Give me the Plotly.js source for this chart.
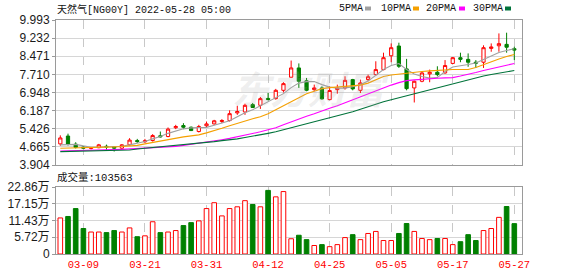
<!DOCTYPE html>
<html>
<head>
<meta charset="utf-8">
<script src="https://cdn.plot.ly/plotly-3.0.1.min.js"></script>
<style>html,body{margin:0;padding:0;background:#fff;}#chart{width:578px;height:276px;}</style>
</head>
<body>
<div id="chart"></div>
<script>
// ---- data ----
const dates = ["03-04","03-07","03-08","03-09","03-10","03-11","03-14","03-15","03-16","03-17",
"03-18","03-21","03-22","03-23","03-24","03-25","03-28","03-29","03-30","03-31",
"04-01","04-04","04-05","04-06","04-07","04-08","04-11","04-12","04-13","04-14",
"04-18","04-19","04-20","04-21","04-22","04-25","04-26","04-27","04-28","04-29",
"05-02","05-03","05-04","05-05","05-06","05-09","05-10","05-11","05-12","05-13",
"05-16","05-17","05-18","05-19","05-20","05-23","05-24","05-25","05-26","05-27"];
const open = [4.79,5.12,4.78,4.66,4.60,4.63,4.69,4.68,4.61,4.75,
4.93,4.88,4.93,5.13,5.10,5.47,5.56,5.49,5.31,5.55,
5.63,5.73,5.77,6.09,6.13,6.44,6.41,6.70,6.69,7.04,
7.59,7.98,7.44,7.07,7.14,6.65,7.07,7.14,7.49,7.04,
7.49,7.70,7.91,8.49,8.90,7.94,7.14,7.42,7.73,7.80,
7.77,8.17,8.41,8.34,8.22,8.22,8.80,8.91,8.97,8.79];
const high = [5.15,5.22,4.86,4.70,4.66,4.79,4.76,4.70,4.78,5.03,
5.00,5.00,5.20,5.31,5.48,5.59,5.66,5.52,5.59,5.73,
5.80,5.83,6.20,6.39,6.48,6.51,6.76,6.93,7.10,7.38,
8.29,8.17,7.56,7.28,7.21,7.21,7.28,7.63,7.52,7.49,
7.70,8.26,8.62,9.01,9.04,8.36,7.45,7.84,7.91,8.05,
8.31,8.44,8.62,8.59,8.31,8.93,9.01,9.43,9.46,8.87];
const low = [4.71,4.72,4.60,4.57,4.56,4.61,4.54,4.47,4.58,4.72,
4.83,4.83,4.89,5.06,5.07,5.41,5.41,5.33,5.27,5.49,
5.60,5.66,5.73,6.01,6.01,6.30,6.26,6.62,6.65,6.95,
7.58,7.14,7.00,7.00,6.65,6.65,6.90,7.07,7.04,6.93,
7.42,7.66,7.88,8.22,7.98,7.04,6.53,7.38,7.38,7.63,
7.74,8.15,8.22,8.03,7.98,7.98,8.66,8.66,8.62,8.31];
const close = [5.04,4.78,4.64,4.61,4.63,4.75,4.66,4.61,4.75,4.95,
4.89,4.92,5.14,5.09,5.41,5.52,5.49,5.35,5.52,5.63,
5.76,5.77,6.06,6.15,6.41,6.32,6.69,6.65,7.04,7.32,
7.98,7.42,7.04,7.14,6.68,7.03,7.14,7.46,7.10,7.35,
7.61,7.91,8.41,8.83,8.05,7.11,7.42,7.77,7.80,7.70,
8.08,8.41,8.34,8.22,8.18,8.83,8.86,9.00,8.85,8.73];
const volume = [123000,128000,155000,87000,75000,75000,73000,80000,75000,89000,
59000,62000,110000,73000,75000,80000,97000,107000,113000,155000,
175000,130000,155000,161000,182000,169000,161000,217000,195000,213000,
52000,64000,49000,29000,32000,25000,32000,56000,66000,49000,
70000,77000,46000,46000,70000,104000,77000,53000,49000,53000,
53000,32000,42000,66000,46000,80000,87000,125000,162000,103563];
const ma5 = [4.748,4.769,4.769,4.706,4.651,4.651,4.664,4.676,4.693,4.748,
4.811,4.887,5.001,5.098,5.233,5.339,5.423,5.465,5.486,5.486,
5.571,5.655,5.761,5.930,6.098,6.225,6.394,6.541,6.710,6.900,
7.153,7.343,7.406,7.406,7.280,7.174,7.132,7.132,7.195,7.280,
7.427,7.660,7.913,8.082,8.166,7.913,7.723,7.617,7.554,7.575,
7.828,8.018,8.060,8.124,8.187,8.335,8.482,8.630,8.714,8.786];
const ma10 = [4.609,4.613,4.621,4.630,4.634,4.642,4.651,4.664,4.680,4.697,
4.727,4.790,4.853,4.917,4.980,5.043,5.086,5.128,5.170,5.254,
5.339,5.444,5.550,5.655,5.761,5.845,5.930,6.056,6.225,6.394,
6.584,6.752,6.900,7.005,7.111,7.153,7.174,7.195,7.217,7.259,
7.343,7.491,7.617,7.681,7.723,7.765,7.799,7.828,7.858,7.883,
7.913,7.913,7.913,7.913,7.997,8.124,8.250,8.356,8.462,8.546];
const ma20 = [4.495,4.499,4.507,4.512,4.520,4.524,4.537,4.550,4.562,4.579,
4.592,4.609,4.626,4.642,4.664,4.685,4.727,4.769,4.811,4.853,
4.917,4.967,5.022,5.085,5.149,5.212,5.297,5.381,5.465,5.592,
5.718,5.824,5.951,6.056,6.183,6.288,6.394,6.520,6.647,6.773,
6.900,7.027,7.153,7.259,7.364,7.448,7.478,7.508,7.533,7.550,
7.563,7.575,7.638,7.702,7.786,7.870,7.955,8.027,8.094,8.166];
const ma30 = [4.465,4.474,4.474,4.482,4.486,4.495,4.495,4.507,4.524,4.537,
4.579,4.609,4.621,4.651,4.676,4.706,4.748,4.778,4.811,4.845,
4.887,4.929,4.959,5.001,5.056,5.107,5.170,5.233,5.297,5.381,
5.453,5.529,5.605,5.698,5.803,5.887,5.972,6.056,6.141,6.246,
6.352,6.478,6.563,6.647,6.731,6.816,6.900,6.985,7.069,7.132,
7.208,7.301,7.407,7.491,7.575,7.639,7.702,7.765,7.829,7.871];
const priceTicks = [3.904,4.665,5.426,6.187,6.948,7.710,8.471,9.232,9.993];
const volTicks = [0,57150,114300,171450,228600];
const volTickLabels = ["0","5.72万","11.43万","17.15万","22.86万"];
const dateTicks = ["03-09","03-21","03-31","04-12","04-25","05-05","05-17","05-27"];
const titleText = "天然气[NG00Y] 2022-05-28 05:00";
const volLabel = "成交量:103563";
const maNames = ["5PMA","10PMA","20PMA","30PMA"];
const maColors = ["#a0a0a0","#f5a000","#ff00ff","#00733a"];
const upColor = "#ff0000", downColor = "#008000";

// ---- traces ----
const up = close.map((c,i)=>c>=open[i]);
const traces = [];
traces.push({
  type:"candlestick", x:dates, open:open, high:high, low:low, close:close,
  xaxis:"x", yaxis:"y", hoverinfo:"skip", whiskerwidth:0,
  increasing:{line:{color:upColor,width:1}, fillcolor:"#ffffff"},
  decreasing:{line:{color:downColor,width:1}, fillcolor:downColor}
});
[ma5,ma10,ma20,ma30].forEach((m,k)=>{
  traces.push({type:"scatter", mode:"lines", x:dates, y:m, xaxis:"x", yaxis:"y",
    line:{color:maColors[k], width:1.1}, hoverinfo:"skip"});
});
traces.push({
  type:"bar", x:dates, y:volume, xaxis:"x2", yaxis:"y2", hoverinfo:"skip",
  marker:{color:up.map(u=>u?"#ffffff":downColor), line:{color:up.map(u=>u?upColor:downColor), width:1}}
});

const L=56,R=56,T=20,B=22;
const pw=578-L-R, ph=276-T-B;
const px=(x)=>(x-L)/pw, py=(y)=>(276-B-y)/ph;

const annotations = [
  {xref:"paper",yref:"paper",x:px(55),y:py(10),xanchor:"left",yanchor:"middle",showarrow:false,
   text:titleText,font:{family:"Liberation Mono, Noto Sans CJK SC",size:10,color:"#111"}},
  {xref:"paper",yref:"paper",x:px(55),y:py(177),xanchor:"left",yanchor:"middle",showarrow:false,
   text:volLabel,font:{family:"Liberation Mono, Noto Sans CJK SC",size:10.5,color:"#111"}},
  {xref:"paper",yref:"paper",x:px(310),y:py(88),xanchor:"center",yanchor:"middle",showarrow:false,
   text:"<i><b>东方财富</b></i>",font:{family:"Noto Sans CJK SC",size:38,color:"rgba(170,170,170,0.2)"}}
];
const legX=[337,379,424,471], sqX=[365,413,459,505];
const shapes=[];
maNames.forEach((n,k)=>{
  annotations.push({xref:"paper",yref:"paper",x:px(legX[k]),y:py(9),xanchor:"left",yanchor:"middle",showarrow:false,
    text:n,font:{family:"Liberation Mono",size:10,color:"#111"}});
  shapes.push({type:"rect",xref:"paper",yref:"paper",x0:px(sqX[k]),x1:px(sqX[k]+6),y0:py(10.5),y1:py(6.5),
    fillcolor:maColors[k],line:{width:0}});
});

const gridC="#d6d6d6", frameC="#9a9a9a";
const layout = {
  width:578, height:276, margin:{l:L,r:R,t:T,b:B},
  paper_bgcolor:"#ffffff", plot_bgcolor:"#ffffff", showlegend:false,
  bargap:0.4, boxgap:0.4,
  xaxis:{domain:[0,1], anchor:"y", type:"category", range:[-0.56,60], rangeslider:{visible:false},
    tickmode:"array", tickvals:dateTicks, showticklabels:false, ticks:"",
    showgrid:true, gridcolor:"#c8c8c8", griddash:"dash", gridwidth:1,
    showline:true, mirror:true, linecolor:frameC, linewidth:1, zeroline:false, fixedrange:true},
  yaxis:{domain:[py(165),1], anchor:"x", range:[3.904,9.993], tickmode:"array", tickvals:priceTicks,
    ticktext:priceTicks.map(v=>v.toFixed(3)), ticks:"outside", ticklen:3, tickcolor:frameC,
    tickfont:{family:"Liberation Sans",size:12,color:"#1a1a1a"},
    showgrid:true, gridcolor:gridC, showline:true, mirror:true, linecolor:frameC, linewidth:1, zeroline:false, fixedrange:true},
  xaxis2:{domain:[0,1], anchor:"y2", type:"category", matches:"x", range:[-0.56,60],
    tickmode:"array", tickvals:dateTicks, ticktext:dateTicks, ticks:"",
    tickfont:{family:"Liberation Mono",size:10.5,color:"#ff0000"},
    showgrid:true, gridcolor:"#c8c8c8", griddash:"dash", gridwidth:1,
    showline:true, mirror:true, linecolor:frameC, linewidth:1, zeroline:false, fixedrange:true},
  yaxis2:{domain:[0,py(187)], anchor:"x2", range:[0,228600], tickmode:"array", tickvals:volTicks,
    ticktext:volTickLabels, ticks:"outside", ticklen:3, tickcolor:frameC,
    tickfont:{family:"Liberation Sans, Noto Sans CJK SC",size:12,color:"#1a1a1a"},
    showgrid:true, gridcolor:gridC, showline:true, mirror:true, linecolor:frameC, linewidth:1, zeroline:false, fixedrange:true},
  annotations:annotations, shapes:shapes
};
Plotly.newPlot("chart", traces, layout, {displayModeBar:false, staticPlot:true});
</script>
</body>
</html>
